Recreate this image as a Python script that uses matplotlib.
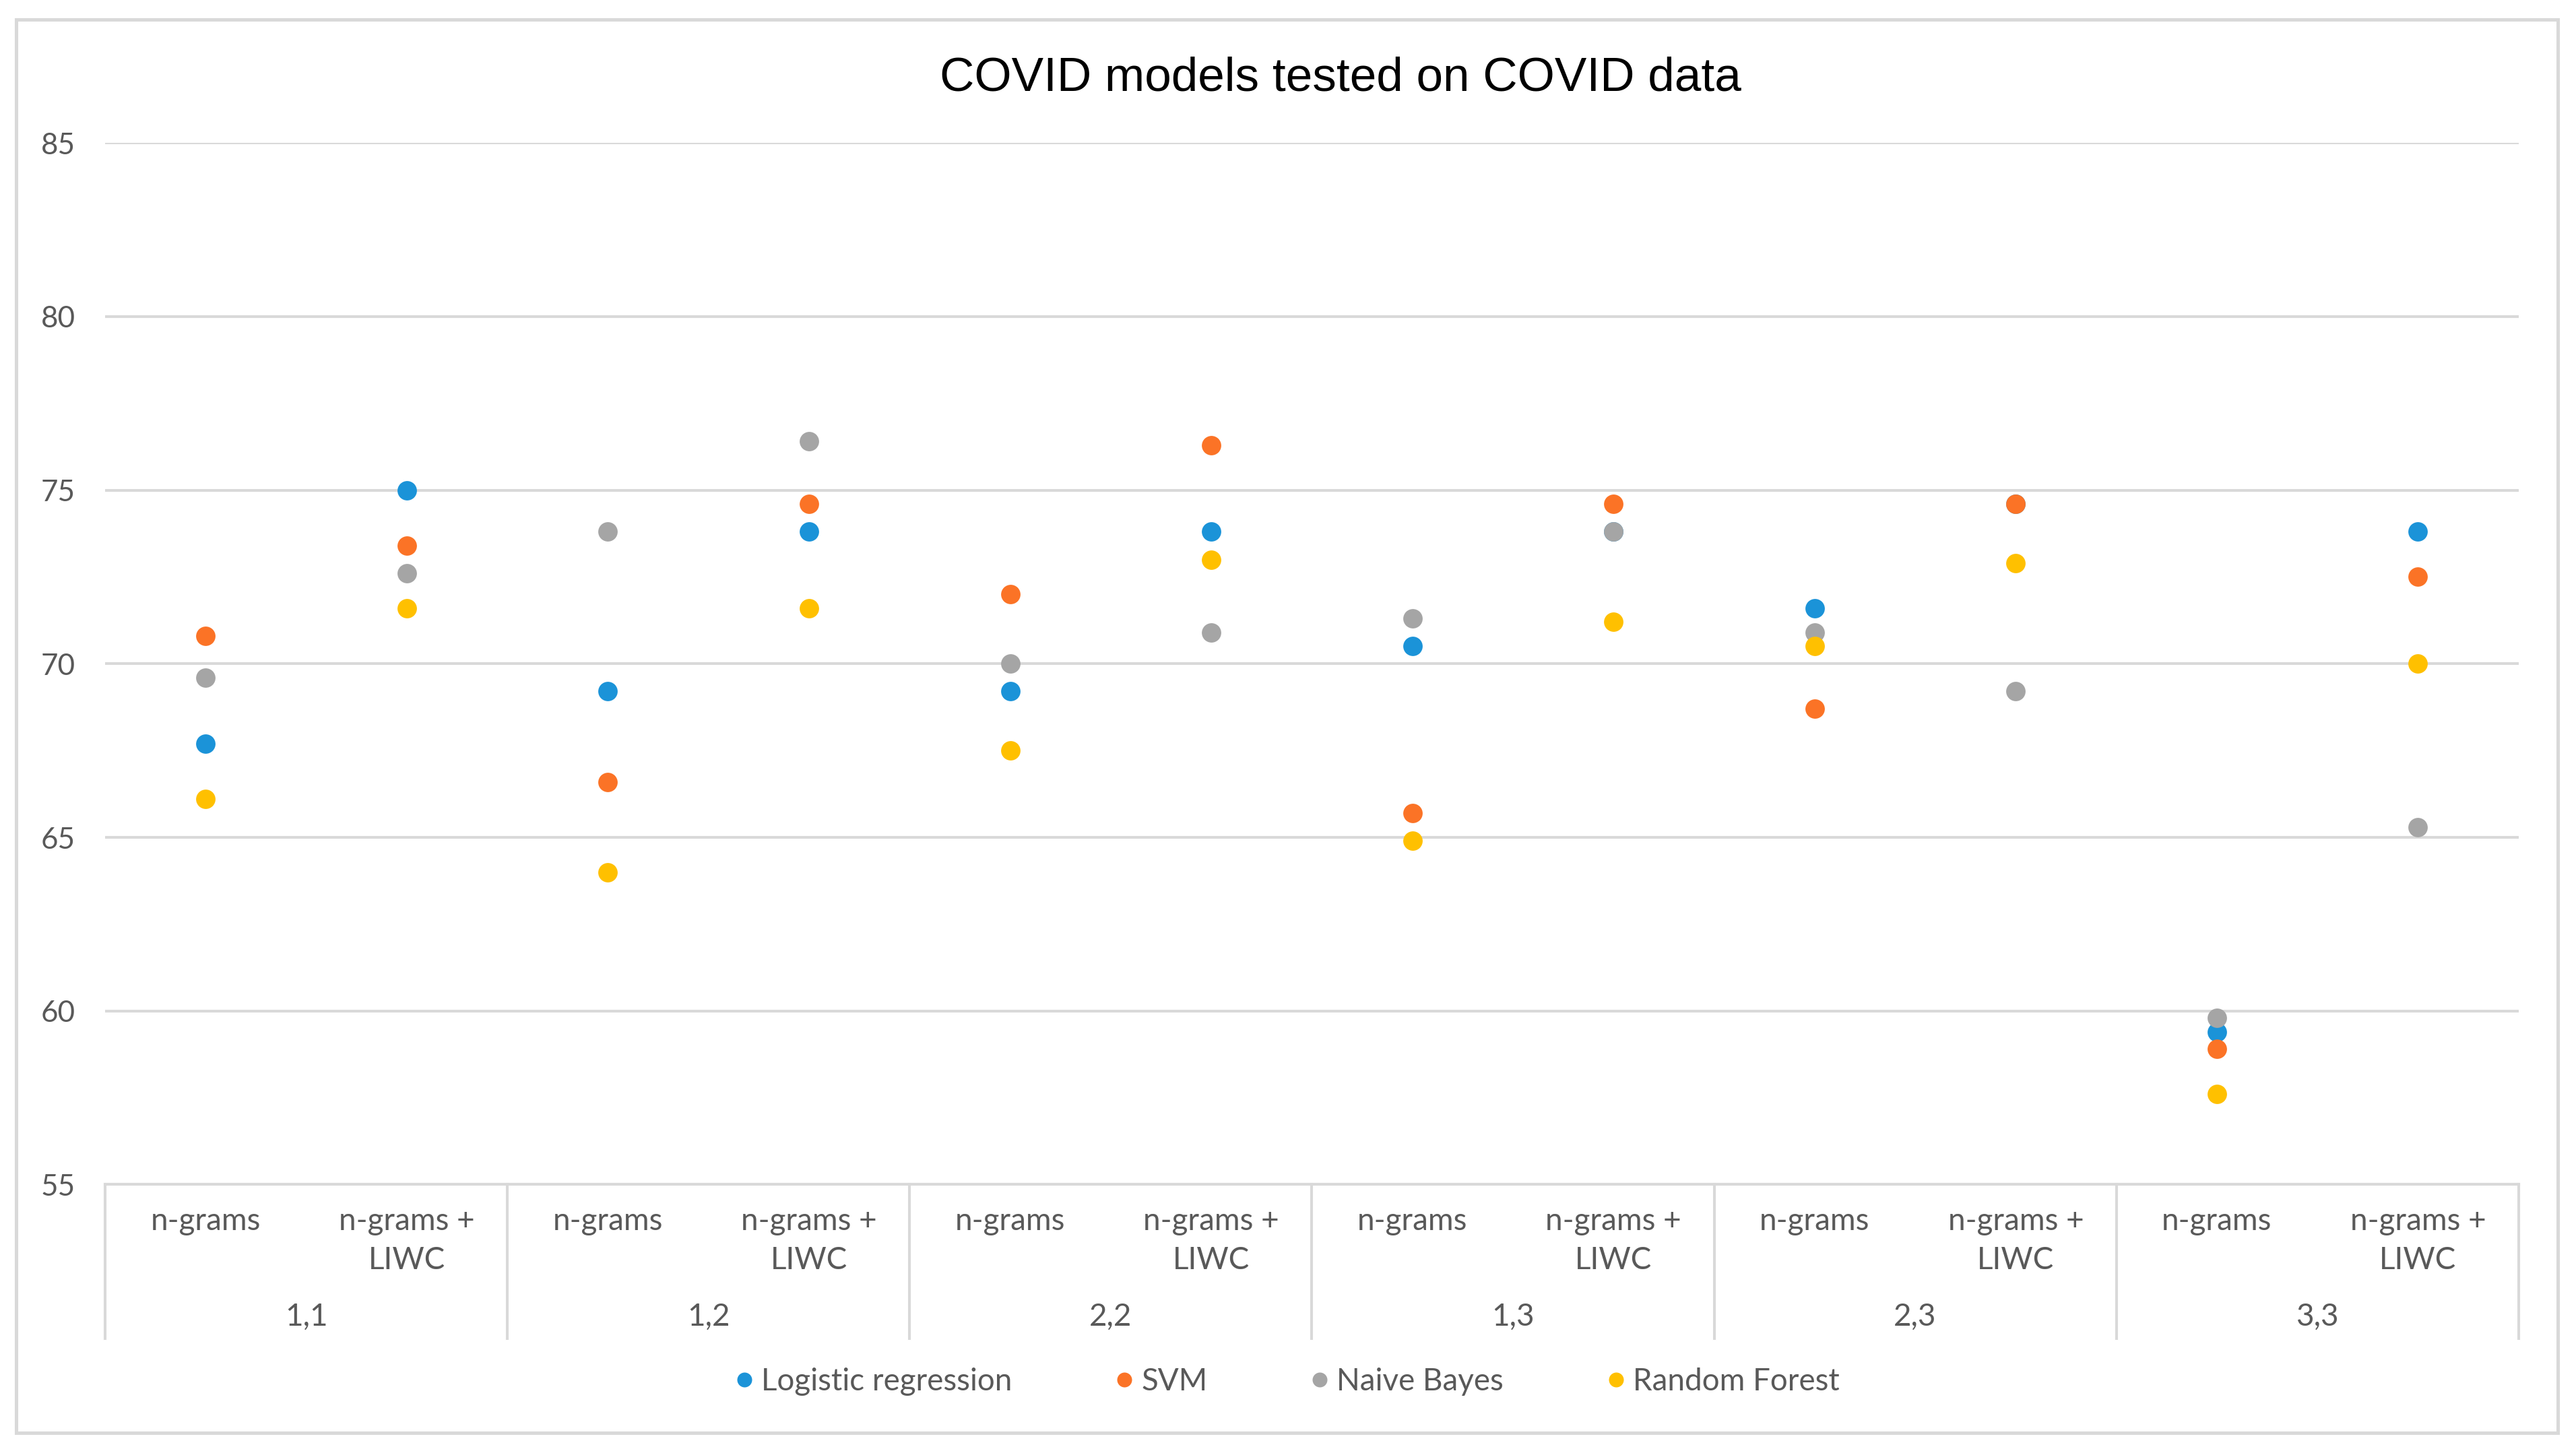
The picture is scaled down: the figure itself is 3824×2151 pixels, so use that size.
import numpy as np
import matplotlib
matplotlib.use('Agg')
import matplotlib.pyplot as plt
from matplotlib.lines import Line2D
from matplotlib.patches import Rectangle

# ---- data -------------------------------------------------------------------
groups = ['1,1', '1,2', '2,2', '1,3', '2,3', '3,3']
features = ['n-grams', 'n-grams +\nLIWC']
series = ['Logistic regression', 'SVM', 'Naive Bayes', 'Random Forest']
colors = ['#1b93d8', '#fb7326', '#a5a5a5', '#ffc000']

logreg = [67.7, 75.0, 69.2, 73.8, 69.2, 73.8, 70.5, 73.8, 71.6, 74.6, 59.4, 73.8]
svm    = [70.8, 73.4, 66.6, 74.6, 72.0, 76.3, 65.7, 74.6, 68.7, 74.6, 58.9, 72.5]
nbayes = [69.6, 72.6, 73.8, 76.4, 70.0, 70.9, 71.3, 73.8, 70.9, 69.2, 59.8, 65.3]
rforest= [66.1, 71.6, 64.0, 71.6, 67.5, 73.0, 64.9, 71.2, 70.5, 72.9, 57.6, 70.0]
values = [logreg, svm, nbayes, rforest]

yticks = [55, 60, 65, 70, 75, 80, 85]

# ---- figure -----------------------------------------------------------------
fig = plt.figure(figsize=(15.68, 8.82), dpi=243.88)
plt.rcParams['font.family'] = ['Lato', 'DejaVu Sans']
ax = fig.add_axes([0.0408, 0.1825, 0.9369, 0.7189])

n = len(groups) * len(features)
x = np.arange(n)
for vals, c, lab in zip(values, colors, series):
    ax.plot(x, vals, 'o', ms=8.5, color=c, mec='none', label=lab, zorder=3)

ax.set_xlim(-0.5, n - 0.5)
ax.set_ylim(55, 85)
ax.set_yticks(yticks)
ax.yaxis.grid(True, color='#d9d9d9', lw=1.2)
ax.set_axisbelow(True)
for s in ['top', 'right', 'left']:
    ax.spines[s].set_visible(False)
ax.spines['bottom'].set_color('#d9d9d9')
ax.spines['bottom'].set_linewidth(1.2)
ax.tick_params(axis='y', length=0, pad=13, labelsize=13, labelcolor='#595959')
ax.tick_params(axis='x', length=0, pad=10, labelsize=13.5, labelcolor='#595959')
ax.set_xticks(x)
ax.set_xticklabels(features * len(groups), va='top', linespacing=1.45)

# group labels and separators below the axis
trans = ax.get_xaxis_transform()
for i, g in enumerate(groups):
    ax.text(2 * i + 0.5, -0.127, g, transform=trans, ha='center', va='center',
            fontsize=13.5, color='#595959')
for b in np.arange(-0.5, n, 2):
    ax.plot([b, b], [0, -0.148], transform=trans, color='#d9d9d9', lw=1.2,
            clip_on=False)

fig.text(0.5203, 0.946, 'COVID models tested on COVID data', ha='center',
         va='center', fontsize=21, family='Liberation Sans', color='black')

handles = [Line2D([], [], ls='none', marker='o', ms=6.5, color=c, mec='none')
           for c in colors]
fig.legend(handles, series, loc='center', bbox_to_anchor=(0.5, 0.0465), ncol=4,
           frameon=False, fontsize=13.5, handlelength=0.5, handletextpad=0.3,
           columnspacing=3.4, labelcolor='#595959')

fig.patches.append(Rectangle((10 / 1568, 1 - 872 / 882), 1547 / 1568, 860 / 882,
                             transform=fig.transFigure, fill=False,
                             edgecolor='#d9d9d9', lw=1.5))

fig.savefig('out.png', dpi=243.88)
